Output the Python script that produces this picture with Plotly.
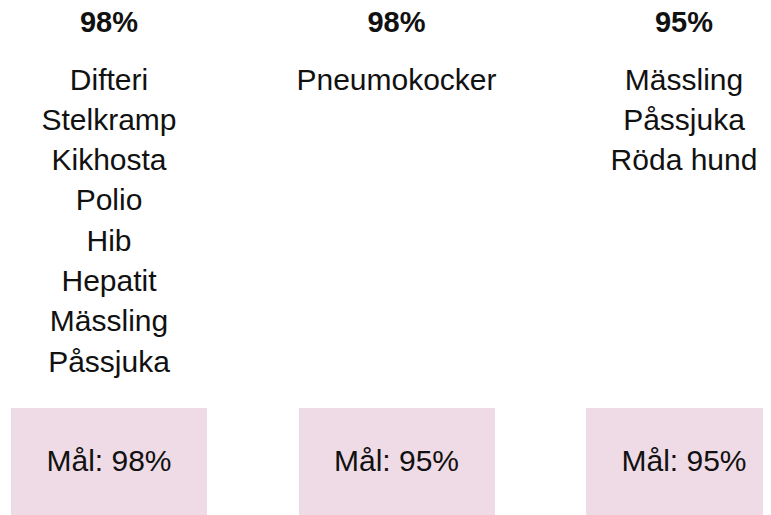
import plotly.graph_objects as go

coverage_labels = ["98%", "98%", "95%"]
disease_lists = [
    ["Difteri", "Stelkramp", "Kikhosta", "Polio", "Hib", "Hepatit", "Mässling", "Påssjuka"],
    ["Pneumokocker"],
    ["Mässling", "Påssjuka", "Röda hund"],
]
goal_labels = ["Mål: 98%", "Mål: 95%", "Mål: 95%"]

W, H = 771, 515
OFF = 8  # page offset of the plot
col_x = [0, 1, 2]
unit = 287.5
x_left = -(109 - OFF) / unit
x_right = x_left + W / unit

fig = go.Figure()

# goal boxes as bars (y in page pixels from top)
box_top, box_bottom = 408, 530
fig.add_trace(go.Bar(
    x=col_x, y=[box_bottom - box_top] * 3, base=[box_top] * 3,
    width=196 / unit, marker=dict(color="#efdbe6", line=dict(width=0)),
    hoverinfo="skip", showlegend=False, cliponaxis=False,
))
fig.add_trace(go.Scatter(
    x=col_x, y=[463] * 3, mode="text", text=goal_labels,
    textfont=dict(family="Liberation Sans, Arial", size=30, color="#111"),
    hoverinfo="skip", showlegend=False, cliponaxis=False,
))

# headers
fig.add_trace(go.Scatter(
    x=col_x, y=[25] * 3, mode="text", text=coverage_labels,
    textfont=dict(family="Liberation Sans, Arial", size=29, color="#111", weight="bold"),
    hoverinfo="skip", showlegend=False, cliponaxis=False,
))

# disease lists
line0, step = 82, 40.3
for i, lst in enumerate(disease_lists):
    fig.add_trace(go.Scatter(
        x=[col_x[i]] * len(lst), y=[line0 + step * k for k in range(len(lst))],
        mode="text", text=lst,
        textfont=dict(family="Liberation Sans, Arial", size=30, color="#111"),
        hoverinfo="skip", showlegend=False, cliponaxis=False,
    ))

fig.update_layout(
    width=W, height=H, margin=dict(l=0, r=0, t=0, b=0),
    paper_bgcolor="white", plot_bgcolor="white",
    xaxis=dict(range=[x_left, x_right], visible=False, fixedrange=True),
    yaxis=dict(range=[H + OFF, OFF], visible=False, fixedrange=True),
    bargap=0,
)
fig.write_html("out.html")
